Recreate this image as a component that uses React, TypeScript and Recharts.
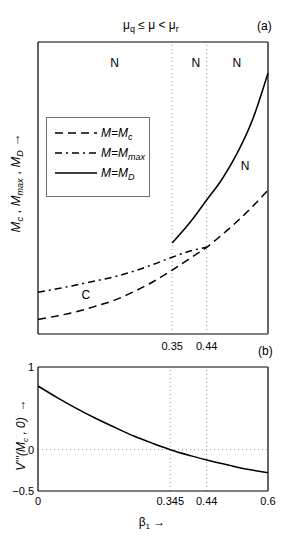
import React from "react";
import {
  LineChart,
  Line,
  XAxis,
  YAxis,
  ReferenceLine,
  ReferenceDot,
  Label,
  Legend,
} from "recharts";

const FONT = "'Liberation Sans', Arial, Helvetica, sans-serif";

// panel (a)
const topBeta = [0, 0.05, 0.1, 0.15, 0.2, 0.25, 0.3, 0.35, 0.4, 0.44, 0.48, 0.52, 0.56, 0.6];
const mcValues = [0.5, 0.62, 0.76, 0.95, 1.16, 1.45, 1.79, 2.19, 2.62, 2.97, 3.4, 3.86, 4.37, 4.93];
const mmaxValues = [1.43, 1.55, 1.68, 1.82, 1.96, 2.15, 2.38, 2.63, 2.85, 2.97, null, null, null, null];
const mdValues = [null, null, null, null, null, null, null, 3.12, 3.88, 4.59, 5.3, 6.2, 7.35, 8.94];
const topTicks = [0.35, 0.44];
const regionLabels = [
  { x: 0.2, y: 9.28, text: "N" },
  { x: 0.412, y: 9.28, text: "N" },
  { x: 0.519, y: 9.28, text: "N" },
  { x: 0.54, y: 5.75, text: "N" },
  { x: 0.125, y: 1.34, text: "C" },
];

// panel (b)
const bottomBeta = [0, 0.05, 0.1, 0.15, 0.2, 0.25, 0.3, 0.345, 0.4, 0.44, 0.5, 0.55, 0.6];
const v3Values = [0.77, 0.63, 0.5, 0.38, 0.27, 0.165, 0.075, 0, -0.075, -0.125, -0.19, -0.24, -0.28];
const bottomXTicks = [0, 0.345, 0.44, 0.6];
const bottomYTicks = [-0.5, 0, 1];

const topData = topBeta.map((b, i) => ({
  beta: b,
  mc: mcValues[i],
  mmax: mmaxValues[i],
  md: mdValues[i],
}));
const bottomData = bottomBeta.map((b, i) => ({ beta: b, v3: v3Values[i] }));

const legendItems = [
  { key: "mc", sub: "c", dash: "8 5" },
  { key: "mmax", sub: "max", dash: "7 4 2 4" },
  { key: "md", sub: "D", dash: undefined as string | undefined },
];

function LegendBox() {
  return (
    <div
      style={{
        border: "1.5px solid #707070",
        background: "#fff",
        width: 104,
        height: 80,
        boxSizing: "border-box",
        padding: "5px 0 0 8px",
        fontFamily: FONT,
      }}
    >
      {legendItems.map((it) => (
        <div key={it.key} style={{ display: "flex", alignItems: "center", height: 20 }}>
          <svg width={42} height={6}>
            <line x1={0} y1={3} x2={42} y2={3} stroke="#000" strokeWidth={1.5} strokeDasharray={it.dash} />
          </svg>
          <span style={{ marginLeft: 4, fontStyle: "italic", fontSize: 12, lineHeight: "12px" }}>
            M=M
            <sub style={{ fontSize: 9, lineHeight: 0, verticalAlign: "-3px" }}>{it.sub}</sub>
          </span>
        </div>
      ))}
    </div>
  );
}

function TopYLabel(props: any) {
  const vb = props.viewBox || { y: 42, height: 292 };
  const cy = vb.y + vb.height / 2 - 5;
  return (
    <text transform={`translate(20, ${cy}) rotate(-90)`} textAnchor="middle" fontSize={13} fontFamily={FONT} fill="#000">
      <tspan fontStyle="italic">M</tspan>
      <tspan fontStyle="italic" fontSize={9} dy={3}>c</tspan>
      <tspan dy={-3}> ,  </tspan>
      <tspan fontStyle="italic">M</tspan>
      <tspan fontStyle="italic" fontSize={9} dy={3}>max</tspan>
      <tspan dy={-3}> ,  </tspan>
      <tspan fontStyle="italic">M</tspan>
      <tspan fontStyle="italic" fontSize={9} dy={3}>D</tspan>
      <tspan dy={-3}>  →</tspan>
    </text>
  );
}

function BottomYLabel(props: any) {
  const vb = props.viewBox || { y: 27, height: 124 };
  const cy = vb.y + vb.height / 2 + 6;
  return (
    <text transform={`translate(25, ${cy}) rotate(-90)`} textAnchor="middle" fontSize={12} fontFamily={FONT} fill="#000">
      <tspan fontStyle="italic">V'''(M</tspan>
      <tspan fontStyle="italic" fontSize={8} dy={3}>c</tspan>
      <tspan fontStyle="italic" dy={-3}> , 0)</tspan>
      <tspan dx={6}>→</tspan>
    </text>
  );
}

function BottomXLabel(props: any) {
  const vb = props.viewBox || { x: 38, y: 151, width: 230 };
  const cx = vb.x + vb.width / 2 - 1;
  return (
    <text x={cx} y={vb.y + 35} textAnchor="middle" fontSize={12} fontFamily={FONT} fill="#000">
      <tspan>β</tspan>
      <tspan fontSize={8} dy={3}>1</tspan>
      <tspan dy={-3}> →</tspan>
    </text>
  );
}

const fmt = (v: number) => (v < 0 ? `−${Math.abs(v)}` : String(v));

const textStyle: React.CSSProperties = {
  position: "absolute",
  fontFamily: FONT,
  fontSize: 12,
  color: "#000",
  whiteSpace: "nowrap",
};

export default function App() {
  return (
    <div style={{ position: "absolute", left: 0, top: 0, width: 296, height: 553, background: "#fff" }}>
      <div style={{ ...textStyle, left: 123, top: 18 }}>
        μ<sub style={{ fontSize: 9 }}>q</sub> ≤ μ &lt; μ<sub style={{ fontSize: 9 }}>r</sub>
      </div>
      <div style={{ ...textStyle, left: 257, top: 19 }}>(a)</div>
      <div style={{ ...textStyle, left: 258, top: 344 }}>(b)</div>

      <div style={{ position: "absolute", left: 0, top: 0 }}>
        <LineChart
          width={296}
          height={360}
          data={topData}
          margin={{ top: 42, right: 28, left: 0, bottom: 0 }}
          style={{ fontFamily: FONT }}
        >
          <XAxis
            dataKey="beta"
            type="number"
            domain={[0, 0.6]}
            ticks={topTicks}
            height={26}
            tickSize={0}
            tickMargin={8}
            tick={{ fontSize: 11, fill: "#000" }}
            axisLine={{ stroke: "#808080", strokeWidth: 2 }}
          />
          <YAxis
            type="number"
            domain={[0, 10]}
            width={38}
            tick={false}
            tickLine={false}
            axisLine={{ stroke: "#000", strokeWidth: 1.2 }}
          >
            <Label content={<TopYLabel />} />
          </YAxis>
          <ReferenceLine y={10} stroke="#000" strokeWidth={1.2} />
          <ReferenceLine x={0.6} stroke="#000" strokeWidth={1.2} />
          {topTicks.map((t) => (
            <ReferenceLine key={t} x={t} stroke="#999" strokeDasharray="1 3" />
          ))}
          <Legend
            layout="vertical"
            align="center"
            verticalAlign="middle"
            content={<LegendBox />}
            wrapperStyle={{ left: 46, top: 117, width: 104, height: 80 }}
          />
          <Line
            dataKey="mc"
            type="monotone"
            stroke="#000"
            strokeWidth={1.5}
            strokeDasharray="8 5"
            dot={false}
            isAnimationActive={false}
          />
          <Line
            dataKey="mmax"
            type="monotone"
            stroke="#000"
            strokeWidth={1.5}
            strokeDasharray="7 4 2 4"
            dot={false}
            isAnimationActive={false}
          />
          <Line
            dataKey="md"
            type="monotone"
            stroke="#000"
            strokeWidth={1.5}
            dot={false}
            isAnimationActive={false}
          />
          {regionLabels.map((r, i) => (
            <ReferenceDot key={i} x={r.x} y={r.y} r={0} fill="none" stroke="none">
              <Label value={r.text} position="center" fontSize={12} fill="#000" fontFamily={FONT} />
            </ReferenceDot>
          ))}
        </LineChart>
      </div>

      <div style={{ position: "absolute", left: 0, top: 340 }}>
        <LineChart
          width={296}
          height={213}
          data={bottomData}
          margin={{ top: 27, right: 28, left: 0, bottom: 17 }}
          style={{ fontFamily: FONT }}
        >
          <XAxis
            dataKey="beta"
            type="number"
            domain={[0, 0.6]}
            ticks={bottomXTicks}
            height={45}
            tickSize={0}
            tickMargin={6}
            tick={{ fontSize: 11, fill: "#000" }}
            axisLine={{ stroke: "#000", strokeWidth: 1.2 }}
          >
            <Label content={<BottomXLabel />} />
          </XAxis>
          <YAxis
            type="number"
            domain={[-0.5, 1]}
            ticks={bottomYTicks}
            width={38}
            tickSize={0}
            tickMargin={4}
            tickFormatter={fmt}
            tick={{ fontSize: 11, fill: "#000" }}
            axisLine={{ stroke: "#000", strokeWidth: 1.2 }}
          >
            <Label content={<BottomYLabel />} />
          </YAxis>
          <ReferenceLine y={1} stroke="#808080" strokeWidth={2} />
          <ReferenceLine x={0.6} stroke="#000" strokeWidth={1.2} />
          <ReferenceLine y={0} stroke="#999" strokeDasharray="1 3" />
          {[0.345, 0.44].map((t) => (
            <ReferenceLine key={t} x={t} stroke="#999" strokeDasharray="1 3" />
          ))}
          <Line
            dataKey="v3"
            type="monotone"
            stroke="#000"
            strokeWidth={1.5}
            dot={false}
            isAnimationActive={false}
          />
        </LineChart>
      </div>
    </div>
  );
}
